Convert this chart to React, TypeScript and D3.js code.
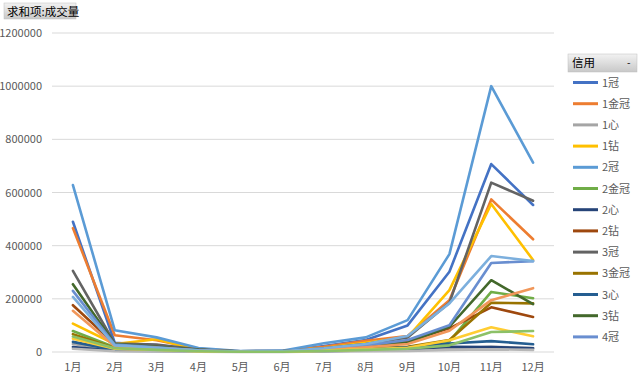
import React from "react";
import * as d3 from "d3";

const width = 640;
const height = 375;
const margin = { top: 33, right: 86, bottom: 23, left: 52 };

const months = ["1月", "2月", "3月", "4月", "5月", "6月", "7月", "8月", "9月", "10月", "11月", "12月"];
const yTicks = [0, 200000, 400000, 600000, 800000, 1000000, 1200000];

// credit levels (legend only shows the first 13, like the pivot chart)
const levels = ["1冠", "1金冠", "1心", "1钻", "2冠", "2金冠", "2心", "2钻", "3冠", "3金冠", "3心", "3钻", "4冠", "4金冠", "4心", "4钻", "5冠", "5金冠"];
const colors = ["#4472C4", "#ED7D31", "#A5A5A5", "#FFC000", "#5B9BD5", "#70AD47", "#264478", "#9E480E", "#636363", "#997300", "#255E91", "#43682B", "#698ED0", "#F1975A", "#B7B7B7", "#FFCD33", "#7CAFDD", "#8CC168"];

const v1Guan = [490000, 35000, 25000, 10000, 3000, 4000, 22000, 45000, 100000, 302000, 707000, 553000];
const v1JinGuan = [466000, 63000, 44000, 12000, 3000, 4000, 20000, 42000, 60000, 195000, 574000, 424000];
const v1Xin = [30000, 8000, 6000, 3000, 1000, 1000, 4000, 6000, 8000, 12000, 20000, 15000];
const v1Zuan = [107000, 30000, 48000, 8000, 2000, 3000, 15000, 35000, 55000, 233000, 557000, 346000];
const v2Guan = [628000, 82000, 55000, 15000, 4000, 5000, 33000, 55000, 120000, 368000, 1000000, 712000];
const v2JinGuan = [79000, 18000, 12000, 4000, 1000, 2000, 6000, 12000, 18000, 40000, 226000, 202000];
const v2Xin = [19000, 5000, 4000, 2000, 1000, 1000, 3000, 6000, 10000, 20000, 19000, 14000];
const v2Zuan = [176000, 30000, 22000, 8000, 2000, 3000, 12000, 25000, 40000, 89000, 168000, 132000];
const v3Guan = [305000, 32000, 28000, 9000, 2000, 3000, 14000, 30000, 55000, 185000, 637000, 569000];
const v3JinGuan = [67000, 15000, 10000, 3000, 1000, 2000, 6000, 12000, 20000, 45000, 185000, 183000];
const v3Xin = [38000, 8000, 6000, 3000, 1000, 1000, 5000, 10000, 18000, 32000, 41000, 29000];
const v3Zuan = [255000, 30000, 20000, 8000, 2000, 3000, 10000, 22000, 35000, 95000, 270000, 180000];
const v4Guan = [230000, 28000, 18000, 6000, 2000, 3000, 12000, 25000, 45000, 101000, 335000, 342000];
const v4JinGuan = [155000, 22000, 15000, 5000, 2000, 2000, 8000, 18000, 30000, 80000, 195000, 240000];
const v4Xin = [12000, 3000, 2000, 1000, 500, 500, 2000, 3000, 4000, 8000, 10000, 8000];
const v4Zuan = [50000, 12000, 9000, 3000, 1000, 1000, 5000, 10000, 16000, 44000, 93000, 59000];
const v5Guan = [207000, 25000, 16000, 6000, 2000, 3000, 14000, 30000, 60000, 183000, 361000, 342000];
const v5JinGuan = [58000, 14000, 8000, 3000, 1000, 1000, 4000, 8000, 12000, 25000, 75000, 79000];

const values = [v1Guan, v1JinGuan, v1Xin, v1Zuan, v2Guan, v2JinGuan, v2Xin, v2Zuan, v3Guan, v3JinGuan, v3Xin, v3Zuan, v4Guan, v4JinGuan, v4Xin, v4Zuan, v5Guan, v5JinGuan];

const font = "'Noto Sans CJK SC', 'Noto Sans', sans-serif";

export default function App() {
  const xScale = d3
    .scalePoint<string>()
    .domain(months)
    .range([margin.left, width - margin.right])
    .padding(0.5);

  const yScale = d3
    .scaleLinear()
    .domain([0, 1200000])
    .range([height - margin.bottom, margin.top]);

  const line = d3
    .line<number>()
    .x((d, i) => xScale(months[i]) as number)
    .y(d => yScale(d));

  const legendCount = 13;

  return (
    <svg width={width} height={height} style={{ position: "absolute", left: 0, top: 0 }} fontFamily={font}>
      <rect width={width} height={height} fill="#fff" />
      <defs>
        <linearGradient id="btn" x1="0" y1="0" x2="0" y2="1">
          <stop offset="0" stopColor="#F2F2F2" />
          <stop offset="1" stopColor="#C8C8C8" />
        </linearGradient>
      </defs>

      {/* field button */}
      <rect x={4} y={3} width={72} height={16} fill="url(#btn)" stroke="#BFBFBF" strokeWidth={0.5} />
      <text x={7} y={15.5} fontSize={11.5} fill="#000">求和项:成交量</text>

      {/* grid + y ticks */}
      {yTicks.map(t => (
        <g key={t}>
          <line x1={margin.left} x2={width - margin.right} y1={yScale(t)} y2={yScale(t)} stroke="#D9D9D9" strokeWidth={1} />
          <text x={42} y={yScale(t) + 4} textAnchor="end" fontSize={11} fill="#595959">{t}</text>
        </g>
      ))}

      {/* x labels */}
      {months.map(m => (
        <text key={m} x={xScale(m)} y={371} textAnchor="middle" fontSize={11} fill="#595959">{m}</text>
      ))}

      {/* series */}
      {values.map((vals, i) => (
        <path key={levels[i]} d={line(vals) as string} fill="none" stroke={colors[i]} strokeWidth={2.6} strokeLinejoin="round" strokeLinecap="round" />
      ))}

      {/* legend */}
      <rect x={568} y={54} width={69} height={18} fill="url(#btn)" stroke="#BFBFBF" strokeWidth={0.5} />
      <text x={572} y={67} fontSize={11.5} fill="#000">信用</text>
      <text x={627} y={66} fontSize={10} fill="#000">-</text>
      {levels.slice(0, legendCount).map((name, i) => {
        const y = 82.5 + i * 21.2;
        return (
          <g key={name}>
            <line x1={573} x2={598} y1={y} y2={y} stroke={colors[i]} strokeWidth={3} />
            <text x={602} y={y + 4} fontSize={11} fill="#595959">{name}</text>
          </g>
        );
      })}
    </svg>
  );
}
